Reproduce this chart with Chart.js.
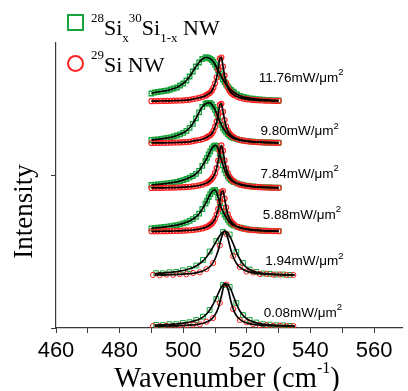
<!DOCTYPE html>
<html><head><meta charset="utf-8">
<script src="https://cdn.jsdelivr.net/npm/chart.js@4.4.0/dist/chart.umd.min.js"></script>
<style>html,body{margin:0;padding:0;background:#fff;}#wrap{width:408px;height:391px;}</style>
</head><body><div id="wrap"><canvas id="c" width="408" height="391"></canvas></div>
<script>
// ---------- data ----------
const denseX = [490,491,492,493,494,495,496,497,498,499,500,501,502,503,504,505,506,507,
  507.5,508,508.5,509,509.5,510,510.5,511,511.5,512,512.5,513,513.5,514,514.5,515,515.5,516,
  517,518,519,520,521,522,523,524,525,526,527,528,529,530];
const fitX = [491,492,493,494,495,496,497,498,499,500,501,502,503,504,505,506,507,508,509,510,
  511,512,513,514,515,516,517,518,519,520,521,522,523,524,525,526,527,528,529,530,531,532,533,534,535];
const redPtX = [490.5,492.6,494.7,496.8,498.9,501.0,503.1,505.2,507.3,509.4,511.5,513.6,515.7,517.8,519.9,522.0,524.1,526.2,528.3,530.4,532.5,534.6];
const greenPtX = [491.5,493.6,495.7,497.8,499.9,502.0,504.1,506.2,508.3,510.4,512.5,514.6,516.7,518.8,520.9,523.0,525.1,527.2,529.3,531.4,533.5];

const powerLabels = ['11.76','9.80','7.84','5.88','1.94','0.08'];
const offsets = [226.5,184.7,139.7,96.3,52.5,1.5];

const s1Green = [8,9,9.5,10,10.5,11,12,13,14,16,18,21,25,30,35,39,42.5,44,
  44,43.5,42.7,41.5,39.5,37,34,31,28,25,22,19.5,17,15,13,11.5,10.2,9,
  7,5.5,4.5,3.8,3.2,2.8,2.4,2.1,1.8,1.6,1.4,1.2,1.1,1];
const s1Red = [0.36,0.4,0.45,0.5,0.55,0.6,0.67,0.78,0.9,1.0,1.2,1.4,1.65,2.4,3.0,3.7,4.6,5.8,
  6.8,8.0,8.9,10.8,13.8,18.2,24,32,43,44,35,25.8,18.7,14.2,11,9.1,7.6,6.4,
  4.7,3.6,2.85,2.3,1.9,1.6,1.35,1.15,1.0,0.85,0.75,0.66,0.58,0.53];
const s2Green = [3.3,3.6,4,4.4,4.9,5.4,6,6.8,7.8,9,10.5,12.5,15.5,19.5,25,31,36.5,39.5,
  40.3,40.5,40.2,38.8,36.5,33.5,30,26,22,18.5,15.5,13,11,9.2,7.7,6.5,5.6,4.9,
  3.9,3.2,2.6,2.2,1.9,1.6,1.4,1.2,1.05,0.9,0.8,0.7,0.6,0.55];
const s2Red = [0.32,0.36,0.4,0.45,0.5,0.54,0.6,0.7,0.81,0.9,1.08,1.26,1.5,2.1,2.7,3.3,4.1,5.2,
  6.1,7.2,8,9.7,12.4,16.4,21.6,28.8,38.5,39.5,31.5,23.2,16.8,12.8,9.9,8.2,6.8,5.8,
  4.2,3.2,2.6,2.1,1.7,1.44,1.2,1.04,0.9,0.77,0.68,0.6,0.52,0.48];
const s3Green = [3.3,3.6,3.9,4.2,4.6,5,5.5,6,6.5,7.3,8.2,9.3,10.7,12.3,14.5,17.5,22.5,27.5,
  30.5,34,37,40,42,43,42.5,39.5,34.5,28.5,23,18.5,15,12,9.8,8.2,7,6.1,
  4.9,4,3.2,2.6,2.1,1.8,1.5,1.3,1.1,0.95,0.85,0.75,0.65,0.6];
const s3Red = [0.34,0.38,0.42,0.46,0.52,0.57,0.65,0.73,0.82,0.97,1.12,1.33,1.55,1.85,2.28,2.84,3.66,4.8,
  5.6,6.6,7.9,9.5,11.8,15.1,20.2,27.8,37.6,43,37.6,27.8,20.2,15.1,11.8,9.5,7.9,6.6,
  4.8,3.66,2.84,2.28,1.85,1.55,1.33,1.12,0.97,0.82,0.73,0.65,0.57,0.52];
const s4Green = [3.4,3.7,4,4.3,4.7,5.1,5.6,6.1,6.6,7.4,8.3,9.4,10.8,12.5,14.8,18,22.7,28,
  31,34.5,37.5,40,41.4,41.7,39.5,34,28.5,24,20.3,17.2,14.5,12,9.8,8.2,7,6.1,
  4.9,4,3.2,2.6,2.1,1.8,1.5,1.3,1.1,0.95,0.85,0.75,0.65,0.6];
const s4Red = [0.33,0.36,0.4,0.44,0.49,0.54,0.61,0.68,0.77,0.9,1.05,1.23,1.45,1.72,2.1,2.6,3.3,4.3,
  4.9,5.8,7.0,8.3,10.1,12.9,17.1,22.5,30,39.6,40.7,33,24.2,17.5,13.3,10.4,8.5,7.1,
  5.0,3.8,3.0,2.3,1.9,1.6,1.33,1.13,0.97,0.84,0.73,0.65,0.58,0.52];

const s5GreenFit = [2.0,2.2,2.4,2.6,2.9,3.2,3.5,3.9,4.4,5.0,5.8,6.8,7.8,9.4,11.5,14,17.3,21.5,26.5,32,
  37.5,42,44.5,42.5,37,29.5,21.5,15.3,10.8,7.8,5.7,4.3,3.4,2.7,2.2,1.8,1.5,1.3,1.1,1.0,0.9,0.8,0.7,0.6,0.55];
const s5RedFit = [0.48,0.52,0.58,0.63,0.7,0.8,0.9,1.0,1.2,1.35,1.56,1.8,2.2,2.7,3.4,4.3,5.7,7.8,11,16.5,
  25.3,37.4,44.5,37.4,25.3,16.5,11,7.8,5.7,4.3,3.4,2.7,2.2,1.8,1.56,1.35,1.2,1.0,0.9,0.8,0.7,0.63,0.58,0.52,0.48];
const s6GreenFit = [1.4,1.5,1.6,1.7,1.9,2.1,2.3,2.6,2.9,3.3,3.8,4.5,5.2,6.1,7.2,9,11.5,15,20,26,
  33,39.5,43,42,37,28.5,20.5,14.5,10.5,7.8,5.9,4.6,3.6,2.9,2.4,2.0,1.7,1.4,1.2,1.05,0.9,0.8,0.7,0.6,0.55];
const s6RedFit = [0.35,0.38,0.41,0.46,0.51,0.57,0.64,0.72,0.83,0.95,1.1,1.3,1.56,1.9,2.37,3.0,3.94,5.4,7.7,11.6,
  18.5,30.2,42,38.3,25,15.2,9.7,6.6,4.7,3.5,2.7,2.15,1.75,1.45,1.22,1.04,0.9,0.78,0.69,0.61,0.54,0.49,0.44,0.4,0.36];

const s5RedPts = [0.6,0.3,0.9,0.7,1.3,1.2,2.5,3.2,6.4,12.5,30,41.5,19.5,8.5,4.0,3.0,1.5,1.6,0.8,1.0,0.5,0.6];
const s5GreenPts = [2.3,2.2,3.3,3.6,5.2,6.5,10,15.5,24,34.5,43.5,41,23.5,12.5,5.9,3.5,2.0,1.7,1.0,1.0,0.6];
const s6RedPts = [0.4,0.2,0.6,0.5,1.0,0.9,1.9,2.2,4.8,8.5,23.5,42,17.5,6.5,4.2,2.4,1.2,1.2,0.6,0.8,0.4,0.5];
const s6GreenPts = [1.6,1.4,2.3,2.4,3.5,4.3,6.5,9.8,16.5,27.5,41.5,39.5,23.5,11.5,6.5,4.0,2.4,1.9,1.2,1.1,0.6];

const xMin = 460, xMax = 569, xStep = 10;
const yMin = 0, yMax = 285, yTickVals = [0, 153];

// ---------- style / layout ----------
const GREEN = '#18a43c', RED = '#ff2222', AXIS = '#3a3a3a';
const labelX = [523.75, 524.3, 524.3, 525.0, 525.8, 525.3];
const labelRise = [20, 8.3, 10.8, 13.2, 10.5, 9.8];

function pts(xs, ys, off) { return xs.map((x, i) => ({x: x, y: off + ys[i]})); }
function lineDs(data) {
  return {data, showLine: true, pointRadius: 0, borderColor: '#000', borderWidth: 1.7,
    cubicInterpolationMode: 'monotone', fill: false, order: 0};
}
function markDs(data, style, color, r, bw, order) {
  return {data, showLine: false, pointStyle: style, pointRadius: r, pointBorderColor: color,
    pointBackgroundColor: 'rgba(0,0,0,0)', pointBorderWidth: bw, order};
}

const datasets = [];
[[s1Green, s1Red], [s2Green, s2Red], [s3Green, s3Red], [s4Green, s4Red]].forEach((p, k) => {
  const g = pts(denseX, p[0], offsets[k]), r = pts(denseX, p[1], offsets[k]);
  datasets.push(lineDs(g), lineDs(r));
  datasets.push(markDs(r, 'circle', RED, 2.5, 1.2, 1));
  datasets.push(markDs(g, 'rect', GREEN, 3.2, 1.3, 2));
});
[[s5GreenFit, s5RedFit, s5GreenPts, s5RedPts], [s6GreenFit, s6RedFit, s6GreenPts, s6RedPts]].forEach((p, j) => {
  const off = offsets[4 + j];
  datasets.push(lineDs(pts(fitX, p[0], off)), lineDs(pts(fitX, p[1], off)));
  datasets.push(markDs(pts(redPtX, p[3], off), 'circle', RED, 2.6, 1, 1));
  datasets.push(markDs(pts(greenPtX, p[2], off), 'rect', GREEN, 3.4, 1, 2));
});

function rich(ctx, x, y, segs, family) {
  let cx = x;
  segs.forEach(s => {
    ctx.font = s[1] + 'px "' + family + '"';
    ctx.fillText(s[0], cx, y + s[2]);
    cx += ctx.measureText(s[0]).width;
  });
  return cx - x;
}
function richWidth(ctx, segs, family) {
  let w = 0;
  segs.forEach(s => { ctx.font = s[1] + 'px "' + family + '"'; w += ctx.measureText(s[0]).width; });
  return w;
}

const textPlugin = {
  id: 'texts',
  afterDraw(chart) {
    const ctx = chart.ctx, xs = chart.scales.x, ys = chart.scales.y;
    ctx.save();
    ctx.fillStyle = '#000';
    ctx.textAlign = 'left';
    ctx.textBaseline = 'alphabetic';
    // legend
    ctx.strokeStyle = GREEN; ctx.lineWidth = 2;
    ctx.strokeRect(68, 15, 15, 15);
    ctx.strokeStyle = RED;
    ctx.beginPath(); ctx.arc(75.5, 63.5, 7.5, 0, Math.PI * 2); ctx.stroke();
    rich(ctx, 91, 35, [['28', 13, -13], ['Si', 22, 0], ['x', 13, 7], ['30', 13, -13], ['Si', 22, 0], ['1-x', 13, 7], [' NW', 22, 0]], 'Liberation Serif');
    rich(ctx, 91, 72, [['29', 13, -13], ['Si NW', 22, 0]], 'Liberation Serif');
    // power labels
    powerLabels.forEach((t, i) => {
      const px = xs.getPixelForValue(labelX[i]);
      const py = ys.getPixelForValue(offsets[i]) - labelRise[i];
      rich(ctx, px, py, [[t + 'mW/\u03BCm', 13.5, 0], ['2', 9.5, -6.5]], 'Liberation Sans');
    });
    // x title
    const tseg = [['Wavenumber (cm', 28.5, 0], ['-1', 16, -13.5], [')', 28.5, 0]];
    const tw = richWidth(ctx, tseg, 'Liberation Serif');
    rich(ctx, 227 - tw / 2, 386.5, tseg, 'Liberation Serif');
    // y title
    ctx.translate(31.5, 211.5);
    ctx.rotate(-Math.PI / 2);
    ctx.textAlign = 'center';
    ctx.font = '27px "Liberation Serif"';
    ctx.fillText('Intensity', 0, 0);
    ctx.restore();
  }
};

new Chart(document.getElementById('c'), {
  type: 'scatter',
  data: {datasets},
  options: {
    responsive: false, animation: false, devicePixelRatio: 1,
    layout: {padding: {top: 43, right: 3, left: 0, bottom: 0}},
    plugins: {legend: {display: false}, tooltip: {enabled: false}},
    scales: {
      x: {
        type: 'linear', min: xMin, max: xMax,
        ticks: {stepSize: xStep, includeBounds: false, autoSkip: false, maxRotation: 0, padding: 5,
          color: '#000', font: {family: 'Liberation Sans', size: 22},
          callback: v => (v % 20 === 0 ? String(v) : '')},
        grid: {drawOnChartArea: false, drawTicks: true, tickLength: 5, color: AXIS, lineWidth: 1},
        border: {display: true, color: AXIS, width: 1.2},
        afterFit: s => { s.height = 63; }
      },
      y: {
        type: 'linear', min: yMin, max: yMax,
        afterBuildTicks: s => { s.ticks = yTickVals.map(v => ({value: v})); },
        ticks: {display: false},
        grid: {drawOnChartArea: false, drawTicks: true, tickLength: 5, color: AXIS, lineWidth: 1},
        border: {display: true, color: AXIS, width: 1.2},
        afterFit: s => { s.width = 56; }
      }
    }
  },
  plugins: [textPlugin]
});
</script>
</body></html>
